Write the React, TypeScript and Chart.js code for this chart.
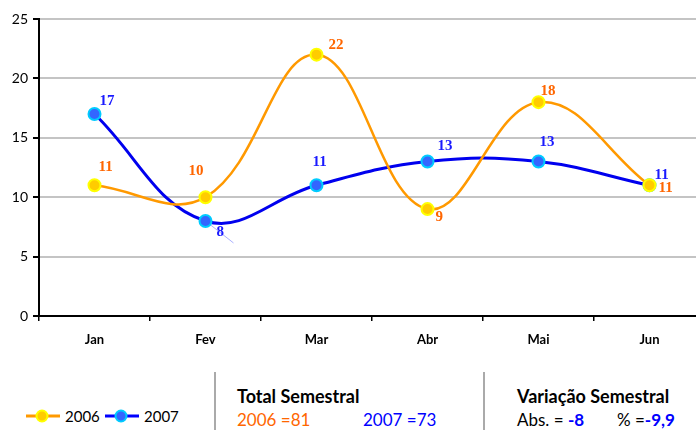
import React, { useEffect, useRef } from "react";
import { Chart, registerables } from "chart.js";
Chart.register(...registerables);

// ---- data ----
const months = ["Jan", "Fev", "Mar", "Abr", "Mai", "Jun"];
const series2006 = [11, 10, 22, 9, 18, 11];
const series2007 = [17, 8, 11, 13, 13, 11];
const seriesNames = ["2006", "2007"];
const yMin = 0;
const yMax = 25;
const yStep = 5;
const totalLabel = "Total Semestral";
const totals = ["2006 =81", "2007 =73"];
const variationLabel = "Variação Semestral";
const absVariation = "-8";
const pctVariation = "-9,9";

// ---- styles ----
const ORANGE_LINE = "#ff9900";
const ORANGE_TEXT = "#ff6600";
const BLUE_LINE = "#0000ee";
const BLUE_TEXT = "#1a1aff";
const SANS = "Lato, 'DejaVu Sans', sans-serif";
const SERIF = "'Liberation Serif', 'DejaVu Serif', serif";
const CANVAS_W = 705;
const CANVAS_H = 350;

// label offsets (px) relative to each point: [dx (left edge), dy (center)]
const labelOffsets2006 = [[4, -18], [-17, -26], [12, -10], [8, 8], [2, -11], [9, 3]];
const labelOffsets2007 = [[5, -13], [11, 11], [-4, -23], [10, -15], [1, -19], [5, -10]];

const labelPlugin = {
  id: "pointLabels",
  beforeDatasetsDraw(chart: any) {
    const meta = chart.getDatasetMeta(1);
    const p = meta.data[1];
    if (!p) return;
    const ctx = chart.ctx;
    ctx.save();
    ctx.strokeStyle = "#aab0ff";
    ctx.lineWidth = 1;
    ctx.beginPath();
    ctx.moveTo(p.x, p.y);
    ctx.lineTo(p.x + 28, p.y + 22);
    ctx.stroke();
    ctx.restore();
  },
  afterDatasetsDraw(chart: any) {
    const ctx = chart.ctx;
    ctx.save();
    ctx.font = "bold 15px " + SERIF;
    ctx.textAlign = "left";
    ctx.textBaseline = "middle";
    const cfg = [
      { offs: labelOffsets2006, color: ORANGE_TEXT, vals: series2006 },
      { offs: labelOffsets2007, color: BLUE_TEXT, vals: series2007 },
    ];
    cfg.forEach((c, di) => {
      const meta = chart.getDatasetMeta(di);
      meta.data.forEach((pt: any, i: number) => {
        ctx.fillStyle = c.color;
        ctx.fillText(String(c.vals[i]), pt.x + c.offs[i][0], pt.y + c.offs[i][1]);
      });
    });
    ctx.restore();
  },
};

function ChartCanvas() {
  const ref = useRef<HTMLCanvasElement | null>(null);
  useEffect(() => {
    if (!ref.current) return;
    const chart = new Chart(ref.current, {
      type: "line",
      data: {
        labels: months,
        datasets: [
          {
            label: seriesNames[0],
            data: series2006,
            borderColor: ORANGE_LINE,
            borderWidth: 2.5,
            backgroundColor: "#ffcc00",
            pointBackgroundColor: "#ffcc00",
            pointBorderColor: "#ffff00",
            pointBorderWidth: 2,
            pointRadius: 6,
            tension: 0.4,
            fill: false,
          },
          {
            label: seriesNames[1],
            data: series2007,
            borderColor: BLUE_LINE,
            borderWidth: 3,
            backgroundColor: "#3366ff",
            pointBackgroundColor: "#3366ff",
            pointBorderColor: "#00ccff",
            pointBorderWidth: 2,
            pointRadius: 6,
            tension: 0.4,
            fill: false,
          },
        ],
      },
      options: {
        responsive: false,
        maintainAspectRatio: false,
        animation: false,
        devicePixelRatio: 1,
        layout: { autoPadding: false, padding: { top: 19, left: 0, right: 0, bottom: 0 } },
        plugins: {
          legend: { display: false },
          tooltip: { enabled: false },
        },
        scales: {
          x: {
            offset: true,
            grid: {
              offset: true,
              drawOnChartArea: false,
              drawTicks: true,
              tickLength: 5,
              color: "#000",
              tickColor: "#000",
              lineWidth: 1.5,
            },
            border: { display: true, color: "#000", width: 2 },
            ticks: {
              color: "#000",
              font: { family: SANS, size: 13, weight: "bold" },
              padding: 11,
              maxRotation: 0,
            },
            afterFit(scale: any) {
              scale.height = 34;
            },
          },
          y: {
            min: yMin,
            max: yMax,
            ticks: {
              stepSize: yStep,
              color: "#000",
              font: { family: SANS, size: 14 },
              padding: 5,
            },
            grid: {
              color: "#c4c4c4",
              lineWidth: 2,
              tickColor: "#000",
              tickLength: 6,
            },
            border: { display: true, color: "#000", width: 2 },
            afterFit(scale: any) {
              scale.width = 39;
            },
          },
        },
      },
      plugins: [labelPlugin],
    });
    return () => chart.destroy();
  }, []);
  return (
    <div style={{ position: "absolute", left: 0, top: 0, width: CANVAS_W, height: CANVAS_H }}>
      <canvas
        ref={ref}
        width={CANVAS_W}
        height={CANVAS_H}
        style={{ display: "block", width: CANVAS_W, height: CANVAS_H }}
      />
    </div>
  );
}

function Marker({ line, fill, border }: { line: string; fill: string; border: string }) {
  return (
    <svg width={34} height={14} style={{ display: "block" }}>
      <line x1={0} y1={7} x2={34} y2={7} stroke={line} strokeWidth={3} />
      <circle cx={16} cy={7} r={5.5} fill={fill} stroke={border} strokeWidth={2} />
    </svg>
  );
}

function Txt(props: { x: number; cy: number; size: number; children: any; style?: any }) {
  return (
    <div
      style={{
        position: "absolute",
        left: props.x,
        top: props.cy - props.size / 2,
        fontSize: props.size,
        lineHeight: 1,
        fontFamily: SANS,
        whiteSpace: "nowrap",
        color: "#000",
        ...(props.style || {}),
      }}
    >
      {props.children}
    </div>
  );
}

export default function App() {
  return (
    <div
      style={{
        position: "fixed",
        left: 0,
        top: 0,
        width: 696,
        height: 430,
        overflow: "hidden",
        background: "#fff",
      }}
    >
      <ChartCanvas />
      {/* legend */}
      <div style={{ position: "absolute", left: 26, top: 409 }}>
        <Marker line={ORANGE_LINE} fill="#ffcc00" border="#ffff00" />
      </div>
      <Txt x={65} cy={416} size={15}>{seriesNames[0]}</Txt>
      <div style={{ position: "absolute", left: 105, top: 409 }}>
        <Marker line="#0000ff" fill="#3366ff" border="#00ccff" />
      </div>
      <Txt x={144} cy={416} size={15}>{seriesNames[1]}</Txt>

      {/* separators */}
      <div style={{ position: "absolute", left: 214, top: 372, width: 2, height: 58, background: "#aaa" }} />
      <div style={{ position: "absolute", left: 483, top: 372, width: 2, height: 58, background: "#aaa" }} />

      {/* totals */}
      <Txt x={237} cy={396} size={18} style={{ fontWeight: "bold" }}>{totalLabel}</Txt>
      <Txt x={237} cy={419} size={17} style={{ color: ORANGE_TEXT }}>{totals[0]}</Txt>
      <Txt x={363} cy={419} size={17} style={{ color: "#0000ff" }}>{totals[1]}</Txt>

      {/* variation */}
      <Txt x={517} cy={396} size={18} style={{ fontWeight: "bold" }}>{variationLabel}</Txt>
      <Txt x={517} cy={419} size={17}>
        Abs. = <span style={{ color: "#0000ff", fontWeight: "bold" }}>{absVariation}</span>
      </Txt>
      <Txt x={617} cy={419} size={17}>
        % =<span style={{ color: "#0000ff", fontWeight: "bold" }}>{pctVariation}</span>
      </Txt>
    </div>
  );
}
